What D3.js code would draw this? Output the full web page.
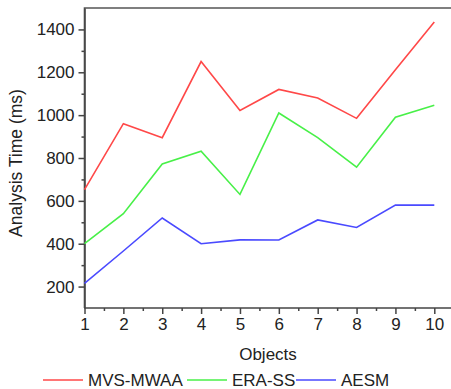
<!DOCTYPE html>
<html lang="en">
<head>
<meta charset="UTF-8">
<script src="https://cdn.jsdelivr.net/npm/d3@7/dist/d3.min.js"></script>
<title>Analysis Time</title>
<style>
  body { margin: 0; background: #fff; }
  text { font-family: "Liberation Sans", Arial, sans-serif; fill: #222; }
</style>
</head>
<body>
<script>
var objects = [1, 2, 3, 4, 5, 6, 7, 8, 9, 10];
var mvsMwaa = [652, 960, 895, 1250, 1022, 1120, 1080, 985, 1212, 1435];
var eraSs   = [400, 540, 772, 832, 630, 1010, 895, 757, 990, 1046];
var aesm    = [215, 366, 520, 400, 418, 417, 511, 476, 580, 580];
var seriesNames = ["MVS-MWAA", "ERA-SS", "AESM"];
var yTicks = [200, 400, 600, 800, 1000, 1200, 1400];

var width = 451, height = 389;
var colors = ["#ff4848", "#48f048", "#4a4aff"];

var svg = d3.select("body").append("svg")
    .attr("width", width).attr("height", height);

var x = d3.scaleLinear().domain([1, 10]).range([84.5, 434.3]);
var y = d3.scaleLinear().domain([100, 1500]).range([308, 8]);

// frame (right side runs out of the picture)
svg.append("path")
    .attr("d", "M" + 84.5 + "," + 308 + "V" + 8 + "H" + 460)
    .attr("fill", "none").attr("stroke", "#555").attr("stroke-width", 1.6);

// y axis
var yAxis = svg.append("g").attr("transform", "translate(84.5,0)")
    .call(d3.axisLeft(y).tickValues(yTicks).tickFormat(d3.format("d"))
        .tickSize(6).tickSizeOuter(0).tickPadding(4));
svg.append("g").attr("transform", "translate(84.5,0)")
    .call(d3.axisLeft(y).tickValues(d3.range(300, 1500, 200)).tickSize(3).tickFormat(""))
    .select(".domain").remove();

// x axis
var xAxis = svg.append("g").attr("transform", "translate(0,308)")
    .call(d3.axisBottom(x).tickValues(objects).tickFormat(d3.format("d"))
        .tickSize(6).tickSizeOuter(0).tickPadding(4));
xAxis.select(".domain").attr("d", "M84.5,0H460");
svg.append("g").attr("transform", "translate(0,308)")
    .call(d3.axisBottom(x).tickValues(d3.range(1.5, 10, 1)).tickSize(3).tickFormat(""))
    .select(".domain").remove();

svg.selectAll(".domain, .tick line").attr("stroke", "#444").attr("stroke-width", 1.5);
svg.selectAll(".tick text").attr("font-size", "17px")
    .attr("font-family", "'Liberation Sans', Arial, sans-serif").attr("fill", "#222");

// lines
var line = d3.line()
    .x(function(d, i) { return x(objects[i]); })
    .y(function(d) { return y(d); });

[mvsMwaa, eraSs, aesm].forEach(function(s, k) {
    svg.append("path")
        .datum(s)
        .attr("d", line)
        .attr("fill", "none")
        .attr("stroke", colors[k])
        .attr("stroke-width", 1.6);
});

// axis titles
svg.append("text")
    .attr("x", 268).attr("y", 360)
    .attr("text-anchor", "middle").attr("font-size", "17px")
    .text("Objects");

svg.append("text")
    .attr("transform", "translate(22,163) rotate(-90)")
    .attr("text-anchor", "middle").attr("font-size", "17.5px")
    .text("Analysis Time (ms)");

// legend
var legendX = [43, 187, 296];
seriesNames.forEach(function(name, k) {
    svg.append("line")
        .attr("x1", legendX[k]).attr("x2", legendX[k] + 40)
        .attr("y1", 380).attr("y2", 380)
        .attr("stroke", colors[k]).attr("stroke-width", 1.6);
    svg.append("text")
        .attr("x", legendX[k] + 45).attr("y", 386)
        .attr("font-size", "17px")
        .text(name);
});
</script>
</body>
</html>
